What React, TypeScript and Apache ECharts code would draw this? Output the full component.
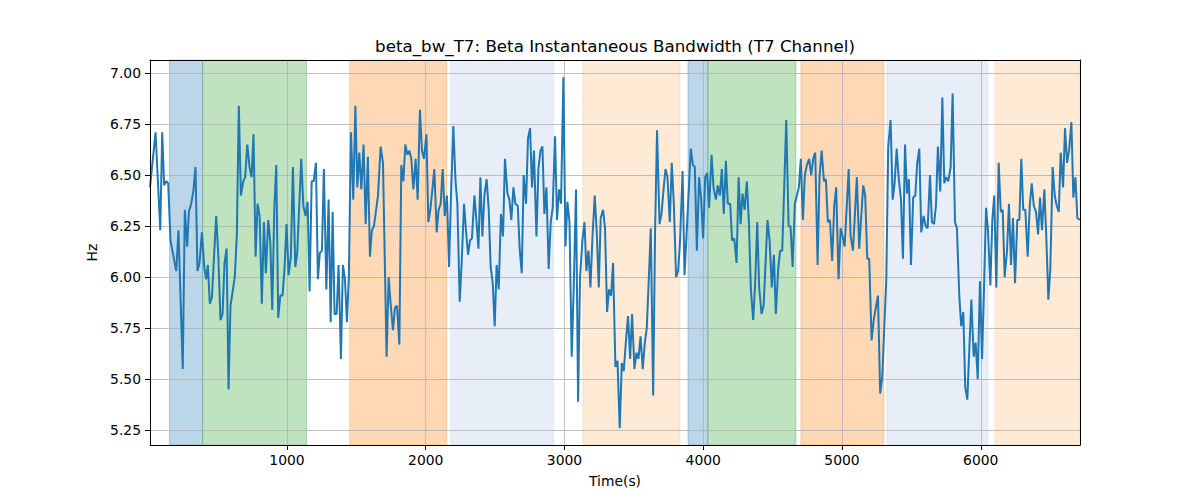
import React, { useEffect, useRef } from "react";
import * as echarts from "echarts";

// [time (s), bandwidth (Hz)]
const samples: [number, number][] = [
  [13,6.44],[53,6.71],[87,6.23],[101,6.71],[115,6.45],[130,6.47],[144,6.46],[161,6.18],[202,6.03],[218,6.23],[249,5.55],[264,6.33],[281,6.15],[293,6.32],[310,6.36],[327,6.43],[341,6.54],[355,6.03],[370,6.07],[387,6.22],[404,6.05],[418,5.99],[430,6.06],[444,5.87],[459,5.90],[490,6.30],[505,6.11],[521,5.79],[536,5.82],[550,6.07],[565,6.14],[579,5.45],[593,5.86],[624,6.00],[639,6.21],[653,6.84],[668,6.40],[685,6.47],[699,6.49],[714,6.65],[730,6.54],[745,6.49],[759,6.70],[774,6.10],[788,6.36],[803,6.30],[819,5.87],[834,6.27],[848,6.02],[865,6.28],[880,6.17],[894,5.84],[909,6.34],[923,6.55],[937,5.80],[952,5.91],[968,5.91],[983,6.05],[997,6.26],[1012,6.01],[1028,6.10],[1043,6.54],[1060,6.05],[1074,6.12],[1103,6.58],[1118,6.35],[1134,6.30],[1149,6.37],[1163,5.93],[1178,6.47],[1192,6.47],[1209,6.56],[1223,5.99],[1237,6.12],[1252,6.13],[1266,6.53],[1284,5.94],[1300,6.38],[1315,5.78],[1329,6.32],[1343,5.82],[1358,5.82],[1372,6.06],[1389,5.60],[1403,6.06],[1418,5.99],[1432,5.78],[1446,6.00],[1461,6.71],[1478,6.38],[1493,6.84],[1507,6.44],[1521,6.61],[1536,6.43],[1552,6.65],[1567,6.26],[1583,6.59],[1598,6.10],[1612,6.23],[1627,6.25],[1656,6.40],[1675,6.64],[1692,6.56],[1718,5.61],[1733,6.00],[1747,5.87],[1764,5.74],[1778,5.85],[1793,5.86],[1810,5.67],[1824,6.55],[1839,6.47],[1853,6.65],[1868,6.60],[1882,6.62],[1896,6.58],[1911,6.43],[1927,6.58],[1942,6.38],[1958,6.82],[1973,6.62],[1987,6.58],[2005,6.70],[2019,6.27],[2033,6.33],[2048,6.43],[2062,6.53],[2079,6.22],[2093,6.33],[2108,6.36],[2122,6.53],[2137,6.30],[2153,6.40],[2168,6.05],[2182,6.40],[2199,6.74],[2214,6.48],[2228,6.36],[2245,5.88],[2259,6.07],[2276,6.36],[2290,6.23],[2305,6.11],[2319,6.18],[2333,6.19],[2351,6.40],[2365,6.28],[2380,6.14],[2394,6.49],[2408,6.20],[2423,6.40],[2439,6.48],[2454,6.33],[2468,6.05],[2483,5.97],[2497,5.76],[2511,6.06],[2526,5.94],[2542,6.31],[2557,6.20],[2571,6.58],[2589,6.41],[2603,6.38],[2617,6.28],[2632,6.44],[2646,6.36],[2663,6.35],[2677,6.14],[2692,6.02],[2706,6.50],[2723,6.36],[2737,6.68],[2752,6.73],[2766,6.44],[2780,6.62],[2798,6.20],[2812,6.53],[2827,6.62],[2841,6.64],[2855,6.31],[2870,6.44],[2886,6.04],[2901,6.27],[2915,6.34],[2932,6.69],[2946,6.28],[2961,6.43],[2975,6.36],[2992,6.98],[3007,6.15],[3021,6.37],[3036,6.27],[3052,5.61],[3067,5.96],[3083,6.43],[3098,5.39],[3112,6.00],[3129,6.18],[3144,6.27],[3158,6.03],[3173,6.13],[3187,5.95],[3202,6.20],[3218,6.40],[3233,6.21],[3247,5.95],[3261,6.29],[3278,6.33],[3292,6.24],[3307,5.83],[3321,5.94],[3336,5.91],[3350,6.07],[3367,5.56],[3382,5.59],[3398,5.26],[3413,5.58],[3427,5.54],[3442,5.68],[3458,5.81],[3473,5.60],[3487,5.82],[3504,5.55],[3519,5.63],[3533,5.60],[3548,5.71],[3564,5.55],[3579,5.68],[3593,5.75],[3608,6.00],[3622,6.24],[3639,5.42],[3653,6.23],[3667,6.72],[3685,6.26],[3699,6.31],[3714,6.43],[3728,6.53],[3742,6.49],[3759,6.27],[3773,6.56],[3788,6.36],[3804,6.00],[3819,6.03],[3833,6.18],[3851,6.52],[3865,6.01],[3879,6.20],[3896,6.43],[3910,6.63],[3925,6.55],[3939,6.54],[3954,6.13],[3970,6.49],[3985,6.38],[3999,6.19],[4014,6.49],[4028,6.51],[4042,6.34],[4060,6.60],[4074,6.44],[4091,6.38],[4105,6.45],[4120,6.40],[4134,6.53],[4148,6.31],[4163,6.57],[4177,6.36],[4194,6.36],[4208,6.18],[4223,6.19],[4240,6.07],[4255,6.49],[4269,6.26],[4283,6.41],[4298,6.33],[4314,6.47],[4329,6.27],[4343,5.94],[4360,5.79],[4374,5.97],[4389,6.27],[4403,5.95],[4420,5.82],[4435,5.86],[4449,6.07],[4463,6.28],[4478,6.18],[4494,5.95],[4509,6.11],[4523,5.82],[4540,6.04],[4554,6.13],[4569,6.13],[4583,6.43],[4598,6.77],[4615,6.25],[4629,6.25],[4644,6.05],[4660,6.36],[4675,6.40],[4689,6.44],[4703,6.58],[4718,6.28],[4732,6.50],[4747,6.55],[4763,6.58],[4778,6.50],[4792,6.58],[4807,6.61],[4824,6.06],[4838,6.49],[4853,6.62],[4870,6.47],[4884,6.48],[4898,6.27],[4913,6.28],[4929,6.08],[4944,6.35],[4958,6.44],[4975,5.99],[4990,6.24],[5004,6.20],[5019,6.15],[5048,6.53],[5062,6.20],[5079,6.13],[5107,6.49],[5124,6.14],[5153,6.45],[5167,6.40],[5182,6.09],[5196,6.09],[5213,5.69],[5228,5.79],[5259,5.91],[5275,5.43],[5290,5.51],[5319,5.99],[5333,6.64],[5350,6.77],[5365,6.38],[5379,6.46],[5394,6.63],[5408,6.49],[5425,6.38],[5439,6.09],[5454,6.65],[5468,6.41],[5482,6.48],[5497,6.06],[5513,6.39],[5528,6.40],[5542,6.56],[5557,6.63],[5571,6.22],[5588,6.30],[5603,6.25],[5617,6.24],[5634,6.50],[5648,6.27],[5663,6.26],[5677,6.35],[5691,6.64],[5708,6.42],[5723,6.88],[5737,6.46],[5751,6.49],[5766,6.47],[5783,6.54],[5797,6.90],[5814,6.27],[5828,6.24],[5845,5.91],[5859,5.76],[5874,5.83],[5888,5.46],[5903,5.40],[5917,5.64],[5932,5.89],[5949,5.61],[5963,5.68],[5978,5.50],[5994,5.98],[6009,5.60],[6023,5.94],[6038,6.34],[6052,6.23],[6069,5.96],[6083,6.28],[6097,6.40],[6112,5.95],[6129,6.56],[6144,6.32],[6158,6.33],[6172,6.00],[6189,6.13],[6203,6.36],[6218,6.06],[6232,6.29],[6247,5.97],[6263,6.28],[6278,6.28],[6292,6.58],[6306,6.33],[6321,6.33],[6338,6.10],[6353,6.35],[6367,6.46],[6382,6.35],[6398,6.32],[6413,6.21],[6427,6.39],[6441,6.23],[6458,6.43],[6472,6.20],[6487,5.89],[6501,6.04],[6518,6.54],[6533,6.40],[6547,6.35],[6562,6.32],[6576,6.61],[6593,6.44],[6607,6.73],[6622,6.56],[6636,6.62],[6653,6.76],[6667,6.39],[6682,6.49],[6696,6.29],[6715,6.28]
];

// shaded intervals (seconds)
const spanStarts = [154, 392, 1452, 2180, 3132, 3890, 4033, 4704, 5323, 6103];
const spanEnds = [392, 1142, 2151, 2922, 3832, 4033, 4668, 5302, 6052, 6715];
const spanKinds = ["a", "b", "c", "d", "e", "a", "b", "c", "d", "e"];

const xTicks = [1000, 2000, 3000, 4000, 5000, 6000];
const yTicks = [5.25, 5.5, 5.75, 6.0, 6.25, 6.5, 6.75, 7.0];

const X_MIN = 13;
const X_MAX = 6715;
const Y_MIN = 5.178;
const Y_MAX = 7.064;

const kindColors: Record<string, string> = {
  a: "rgba(31,119,180,0.3)",
  b: "rgba(44,160,44,0.3)",
  c: "rgba(255,127,14,0.3)",
  d: "rgba(174,199,232,0.3)",
  e: "rgba(255,187,120,0.3)",
};

const FONT = "DejaVu Sans";

export default function App() {
  const ref = useRef<HTMLDivElement>(null);

  useEffect(() => {
    document.body.style.margin = "0";
    if (!ref.current) return;
    const chart = echarts.init(ref.current, undefined, { renderer: "svg" });

    const areaData = spanStarts.map((s, i) => {
      const c = kindColors[spanKinds[i]];
      return [
        { xAxis: s, itemStyle: { color: c, borderColor: c, borderWidth: 1 } },
        { xAxis: spanEnds[i] },
      ];
    });

    const gridLines = [
      ...xTicks.map((x) => ({ xAxis: x })),
      ...yTicks.map((y) => ({ yAxis: y })),
    ];

    const axisText = { color: "#000", fontSize: 13.9, fontFamily: FONT };

    chart.setOption({
      animation: false,
      grid: { left: 150, right: 120, top: 60, bottom: 55, containLabel: false },
      graphic: [
        {
          type: "text",
          x: 615,
          y: 46,
          style: {
            text: "beta_bw_T7: Beta Instantaneous Bandwidth (T7 Channel)",
            fontSize: 16.7,
            fontFamily: FONT,
            fill: "#000",
            align: "center",
            verticalAlign: "middle",
          },
        },
      ],
      xAxis: [
        {
          type: "value",
          min: X_MIN,
          max: X_MAX,
          position: "bottom",
          z: 5,
          name: "Time(s)",
          nameLocation: "middle",
          nameGap: 29,
          nameTextStyle: axisText,
          axisLine: { show: true, onZero: false, lineStyle: { color: "#000", width: 1 } },
          axisTick: { show: true, inside: false, length: 5, customValues: xTicks, lineStyle: { color: "#000" } },
          axisLabel: { ...axisText, margin: 8, customValues: xTicks, formatter: (v: number) => String(v) },
          splitLine: { show: false },
        },
        {
          type: "value",
          min: X_MIN,
          max: X_MAX,
          position: "top",
          z: 5,
          axisLine: { show: true, onZero: false, lineStyle: { color: "#000", width: 1 } },
          axisTick: { show: false },
          axisLabel: { show: false },
          splitLine: { show: false },
        },
      ],
      yAxis: [
        {
          type: "value",
          min: Y_MIN,
          max: Y_MAX,
          position: "left",
          z: 5,
          name: "Hz",
          nameLocation: "middle",
          nameGap: 44,
          nameRotate: 90,
          nameTextStyle: axisText,
          axisLine: { show: true, onZero: false, lineStyle: { color: "#000", width: 1 } },
          axisTick: { show: true, inside: false, length: 5, customValues: yTicks, lineStyle: { color: "#000" } },
          axisLabel: { ...axisText, margin: 9, customValues: yTicks, formatter: (v: number) => v.toFixed(2) },
          splitLine: { show: false },
        },
        {
          type: "value",
          min: Y_MIN,
          max: Y_MAX,
          position: "right",
          z: 5,
          axisLine: { show: true, onZero: false, lineStyle: { color: "#000", width: 1 } },
          axisTick: { show: false },
          axisLabel: { show: false },
          splitLine: { show: false },
        },
      ],
      series: [
        {
          type: "line",
          name: "beta_bw_T7",
          xAxisIndex: 0,
          yAxisIndex: 0,
          data: samples,
          z: 3,
          showSymbol: false,
          symbol: "none",
          clip: true,
          lineStyle: { color: "#1f77b4", width: 2 },
          itemStyle: { color: "#1f77b4" },
          markArea: { silent: true, z: 1, data: areaData },
          markLine: {
            silent: true,
            z: 2,
            symbol: ["none", "none"],
            label: { show: false },
            lineStyle: { color: "#b0b0b0", width: 0.8, type: "solid" },
            data: gridLines,
          },
        },
      ],
    });

    return () => chart.dispose();
  }, []);

  return <div ref={ref} style={{ width: 1200, height: 500 }} />;
}
